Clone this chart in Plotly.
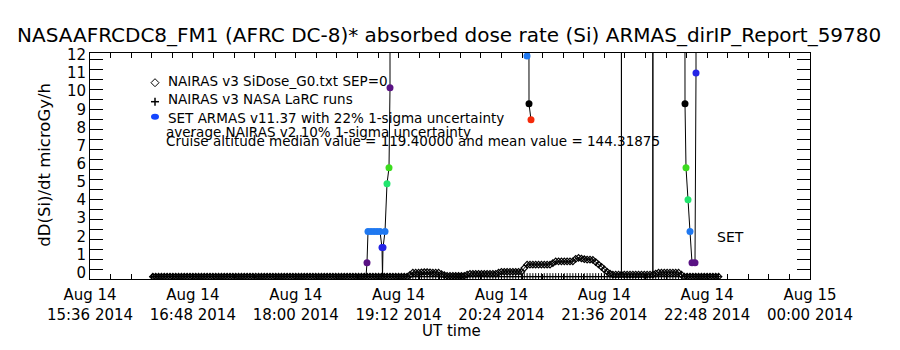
import plotly.graph_objects as go
import pandas as pd

TITLE = "NASAAFRCDC8_FM1 (AFRC DC-8)* absorbed dose rate (Si) ARMAS_dirIP_Report_59780"
X_TITLE = "UT time"
Y_TITLE = "dD(Si)/dt microGy/h"
X_TICK_TIMES = ["2014-08-14 15:36", "2014-08-14 16:48", "2014-08-14 18:00", "2014-08-14 19:12",
                "2014-08-14 20:24", "2014-08-14 21:36", "2014-08-14 22:48", "2014-08-15 00:00"]
X_TICK_LABELS = ["Aug 14<br>15:36 2014", "Aug 14<br>16:48 2014", "Aug 14<br>18:00 2014",
                 "Aug 14<br>19:12 2014", "Aug 14<br>20:24 2014", "Aug 14<br>21:36 2014",
                 "Aug 14<br>22:48 2014", "Aug 15<br>00:00 2014"]
Y_TICKS = [0, 1, 2, 3, 4, 5, 6, 7, 8, 9, 10, 11, 12]

LEGEND_LINES = ["NAIRAS v3 SiDose_G0.txt SEP=0",
                "NAIRAS v3 NASA LaRC runs",
                "SET ARMAS v11.37 with 22% 1-sigma uncertainty",
                "average NAIRAS v2 10% 1-sigma uncertainty",
                "Cruise altitude median value = 119.40000 and mean value = 144.31875"]

# NAIRAS model series sampled every 2 minutes starting 16:20 UT
NAIRAS_START = "2014-08-14 16:20"
NAIRAS_G0 = [
    -0.22, -0.22, -0.22, -0.22, -0.22, -0.22, -0.22, -0.22, -0.22, -0.22, -0.22, -0.22, -0.22, -0.22, -0.22, -0.22, -0.22, -0.22, -0.22, -0.22,
    -0.22, -0.22, -0.22, -0.22, -0.22, -0.22, -0.22, -0.22, -0.22, -0.22, -0.22, -0.22, -0.22, -0.22, -0.22, -0.22, -0.22, -0.22, -0.22, -0.22,
    -0.22, -0.22, -0.22, -0.22, -0.22, -0.22, -0.22, -0.22, -0.22, -0.22, -0.22, -0.22, -0.22, -0.22, -0.22, -0.22, -0.22, -0.22, -0.22, -0.22,
    -0.22, -0.22, -0.22, -0.22, -0.22, -0.22, -0.22, -0.22, -0.22, -0.22, -0.22, -0.22, -0.22, -0.22, -0.22, -0.22, -0.22, -0.22, -0.22, -0.22,
    -0.22, -0.22, -0.22, -0.22, -0.22, -0.22, -0.22, -0.22, -0.22, -0.22, -0.12, 0.0, 0.0, 0.0, 0.02, 0.03, 0.03, 0.02, 0.0, 0.0,
    0.0, -0.08, -0.14, -0.17, -0.17, -0.17, -0.17, -0.17, -0.17, -0.17, -0.11, -0.06, -0.06, -0.06, -0.06, -0.06, -0.06, -0.06, -0.06, -0.06,
    -0.06, 0.0, 0.05, 0.05, 0.05, 0.05, 0.05, 0.05, 0.05, 0.05, 0.25, 0.44, 0.44, 0.44, 0.44, 0.44, 0.44, 0.44, 0.44, 0.44,
    0.53, 0.62, 0.62, 0.62, 0.62, 0.62, 0.62, 0.62, 0.76, 0.81, 0.78, 0.74, 0.72, 0.72, 0.70, 0.58, 0.45, 0.32, 0.18, 0.05,
    -0.05, -0.11, -0.11, -0.11, -0.11, -0.11, -0.11, -0.11, -0.11, -0.11, -0.11, -0.11, -0.11, -0.11, -0.11, -0.11, -0.05, 0.0, 0.0, 0.0,
    0.0, 0.0, 0.0, 0.0, 0.0, -0.11, -0.22, -0.22, -0.22, -0.22, -0.22, -0.22, -0.22, -0.22, -0.22, -0.22, -0.22, -0.22, -0.22,
]
NAIRAS_LARC = [
    -0.22, -0.22, -0.22, -0.22, -0.22, -0.22, -0.22, -0.22, -0.22, -0.22, -0.22, -0.22, -0.22, -0.22, -0.22, -0.22, -0.22, -0.22, -0.22, -0.22,
    -0.22, -0.22, -0.22, -0.22, -0.22, -0.22, -0.22, -0.22, -0.22, -0.22, -0.22, -0.22, -0.22, -0.22, -0.22, -0.22, -0.22, -0.22, -0.22, -0.22,
    -0.22, -0.22, -0.22, -0.22, -0.22, -0.22, -0.22, -0.22, -0.22, -0.22, -0.22, -0.22, -0.22, -0.22, -0.22, -0.22, -0.22, -0.22, -0.22, -0.22,
    -0.22, -0.22, -0.22, -0.22, -0.22, -0.22, -0.22, -0.22, -0.22, -0.22, -0.22, -0.22, -0.22, -0.22, -0.22, -0.22, -0.22, -0.22, -0.22, -0.22,
    -0.22, -0.22, -0.22, -0.22, -0.22, -0.22, -0.22, -0.22, -0.22, -0.22, -0.22, -0.22, -0.22, -0.22, -0.22, -0.22, -0.22, -0.22, -0.22, -0.22,
    -0.22, -0.22, -0.22, -0.22, -0.22, -0.22, -0.22, -0.22, -0.22, -0.22, -0.22, -0.22, -0.22, -0.22, -0.22, -0.22, -0.22, -0.22, -0.22, -0.22,
    -0.22, -0.22, -0.22, -0.22, -0.22, -0.22, -0.22, -0.22, -0.22, -0.22, -0.22, -0.22, -0.22, -0.22, -0.22, -0.22, -0.22, -0.22, -0.22, -0.22,
    -0.22, -0.22, -0.22, -0.22, -0.22, -0.22, -0.22, -0.22, -0.22, -0.22, -0.22, -0.22, -0.22, -0.22, -0.22, -0.22, -0.22, -0.22, -0.22, -0.22,
    -0.22, -0.22, -0.22, -0.22, -0.22, -0.22, -0.22, -0.22, -0.22, -0.22, -0.22, -0.22, -0.22, -0.22, -0.22, -0.22, -0.22, -0.22, -0.22, -0.22,
    -0.22, -0.22, -0.22, -0.22, -0.22, -0.22, -0.22, -0.22, -0.22, -0.22, -0.22, -0.22, -0.22, -0.22, -0.22, -0.22, -0.22, -0.22, -0.22,
]
# LaRC runs that blow off the top of the chart (single-time spikes)
LARC_SPIKE_TIMES = ["2014-08-14 21:48", "2014-08-14 22:10"]
LARC_SPIKE_VALUES = [1000.0, 1000.0]

# SET ARMAS measurements (None = gap; 100 = off the top of the chart)
SET_TIMES = [
    "2014-08-14 18:49:12", "2014-08-14 18:49:54", "2014-08-14 18:50:36", "2014-08-14 18:52:42",
    "2014-08-14 18:54:48", "2014-08-14 18:56:54", "2014-08-14 18:59:00", "2014-08-14 19:00:24",
    "2014-08-14 19:00:45", "2014-08-14 19:01:06", "2014-08-14 19:02:30", "2014-08-14 19:03:54",
    "2014-08-14 19:05:18", "2014-08-14 19:06:00", "2014-08-14 19:06:30", None,
    "2014-08-14 20:41:12", "2014-08-14 20:41:54", "2014-08-14 20:42:36", "2014-08-14 20:43:18",
    "2014-08-14 20:44:42", None,
    "2014-08-14 22:31:36", "2014-08-14 22:32:30", "2014-08-14 22:33:12", "2014-08-14 22:34:36",
    "2014-08-14 22:36:00", "2014-08-14 22:37:24", "2014-08-14 22:39:30", "2014-08-14 22:40:12",
    "2014-08-14 22:40:30",
]
SET_VALUES = [
    -0.22, 0.55, 2.26, 2.26, 2.26, 2.26, 2.26, 1.38,
    -0.22, 1.38, 2.26, 4.9, 5.78, 10.18, 100.0, None,
    100.0, 11.94, 100.0, 9.3, 8.42, None,
    100.0, 9.3, 5.78, 4.02, 2.26, 0.55, 0.55, 11.0, 100.0,
]
SET_COLORS = [
    None, "#5a1284", "#1f78f0", "#1f78f0", "#1f78f0", "#1f78f0", "#1f78f0", "#2424e6",
    None, "#2424e6", "#1f78f0", "#22e66e", "#3cdc1e", "#5a1284", None, None,
    None, "#1f78f0", None, "#000000", "#f52a0a", None,
    None, "#000000", "#3cdc1e", "#22e66e", "#1f78f0", "#5a1284", "#5a1284", "#2424e6", None,
]

FONT = "DejaVu Sans"

times = list(pd.date_range(NAIRAS_START, periods=len(NAIRAS_G0), freq="2min"))

# LaRC line: baseline samples with the spikes inserted at their own times
spikes = {pd.Timestamp(t): v for t, v in zip(LARC_SPIKE_TIMES, LARC_SPIKE_VALUES)}
larc_x, larc_y = [], []
for t, v in zip(times, NAIRAS_LARC):
    larc_x.append(t)
    larc_y.append(v)
    if t in spikes:
        larc_x += [t, t]
        larc_y += [spikes[t], v]

fig = go.Figure()
fig.add_trace(go.Scatter(
    x=larc_x, y=larc_y, mode="lines",
    line=dict(color="black", width=1, simplify=False),
))
fig.add_trace(go.Scatter(
    x=times, y=NAIRAS_LARC, mode="markers",
    marker=dict(symbol="cross-thin-open", size=5, color="black", line=dict(color="black", width=1)),
))
fig.add_trace(go.Scatter(
    x=times, y=NAIRAS_G0, mode="lines+markers",
    line=dict(color="black", width=1),
    marker=dict(symbol="diamond-open", size=5, color="black", line=dict(color="black", width=1.2)),
))
fig.add_trace(go.Scatter(
    x=SET_TIMES, y=SET_VALUES, mode="lines",
    line=dict(color="black", width=1, simplify=False), connectgaps=False,
))
mk = [i for i, c in enumerate(SET_COLORS) if c is not None]
fig.add_trace(go.Scatter(
    x=[SET_TIMES[i] for i in mk], y=[SET_VALUES[i] for i in mk], mode="markers",
    marker=dict(symbol="circle", size=7, color=[SET_COLORS[i] for i in mk], line=dict(width=0)),
    cliponaxis=False,
))

# geometry helpers (plot area in pixels)
L, R, T, B = 90, 810, 53.3, 279.3
def px(x):
    return (x - L) / (R - L)
def py(y):
    return (B - y) / (B - T)

ann = []
ann.append(dict(text=TITLE, x=px(448.5), y=py(35), xref="paper", yref="paper",
                showarrow=False, xanchor="center", yanchor="middle", font=dict(size=20)))
ann.append(dict(text=X_TITLE, x=px(451), y=py(331), xref="paper", yref="paper",
                showarrow=False, xanchor="center", yanchor="middle", font=dict(size=15)))
ann.append(dict(text=Y_TITLE, x=px(45), y=py(165), xref="paper", yref="paper", textangle=-90,
                showarrow=False, xanchor="center", yanchor="middle", font=dict(size=16.5)))
leg_pos = [(166, 81), (166, 99.5), (166, 118), (164, 132), (164, 141)]
for txt, (lx, ly) in zip(LEGEND_LINES, leg_pos):
    ann.append(dict(text=txt, x=px(lx), y=py(ly), xref="paper", yref="paper",
                    showarrow=False, xanchor="left", yanchor="middle", font=dict(size=13.5)))
ann.append(dict(text="SET", x="2014-08-14 23:04", y=1.98, xref="x", yref="y",
                showarrow=False, xanchor="center", yanchor="middle", font=dict(size=14)))

shapes = [
    dict(type="path", xref="paper", yref="paper", xsizemode="pixel", ysizemode="pixel",
         xanchor=px(155), yanchor=py(83), path="M -4 0 L 0 4 L 4 0 L 0 -4 Z",
         line=dict(color="black", width=1)),
    dict(type="line", xref="paper", yref="paper", xsizemode="pixel", ysizemode="pixel",
         xanchor=px(155), yanchor=py(102), x0=-4, x1=4, y0=0, y1=0, line=dict(color="black", width=1.5)),
    dict(type="line", xref="paper", yref="paper", xsizemode="pixel", ysizemode="pixel",
         xanchor=px(155), yanchor=py(102), x0=0, x1=0, y0=-4, y1=4, line=dict(color="black", width=1.5)),
    dict(type="circle", xref="paper", yref="paper", xsizemode="pixel", ysizemode="pixel",
         xanchor=px(155), yanchor=py(117), x0=-4, x1=4, y0=-3, y1=3,
         fillcolor="#1446ff", line=dict(width=0)),
]

fig.update_layout(
    width=900, height=350, autosize=False,
    margin=dict(l=L, r=900 - R, t=T, b=350 - B),
    paper_bgcolor="white", plot_bgcolor="white", showlegend=False,
    font=dict(family=FONT, color="black", size=15),
    annotations=ann, shapes=shapes,
)
fig.update_xaxes(
    type="date", range=["2014-08-14 15:36", "2014-08-15 00:00"],
    tickmode="array", tickvals=X_TICK_TIMES, ticktext=X_TICK_LABELS,
    ticks="inside", ticklen=5, tickcolor="black", tickwidth=1,
    showline=True, linecolor="black", linewidth=1, mirror="allticks",
    showgrid=False, zeroline=False, tickfont=dict(size=15), ticklabelstandoff=2,
    minor=dict(ticks="inside", ticklen=5, dtick=864000, tick0="2014-08-14 15:36",
               tickcolor="black", showgrid=False),
)
fig.update_yaxes(
    range=[-0.35, 12.1], tickmode="array", tickvals=Y_TICKS,
    ticks="inside", ticklen=0, tickcolor="black",
    showline=True, linecolor="black", linewidth=1, mirror="allticks",
    showgrid=False, zeroline=False, tickfont=dict(size=15),
    minor=dict(ticks="inside", ticklen=13, dtick=0.55, tick0=0.165, tickcolor="black", showgrid=False),
)

fig.write_html("out.html")
